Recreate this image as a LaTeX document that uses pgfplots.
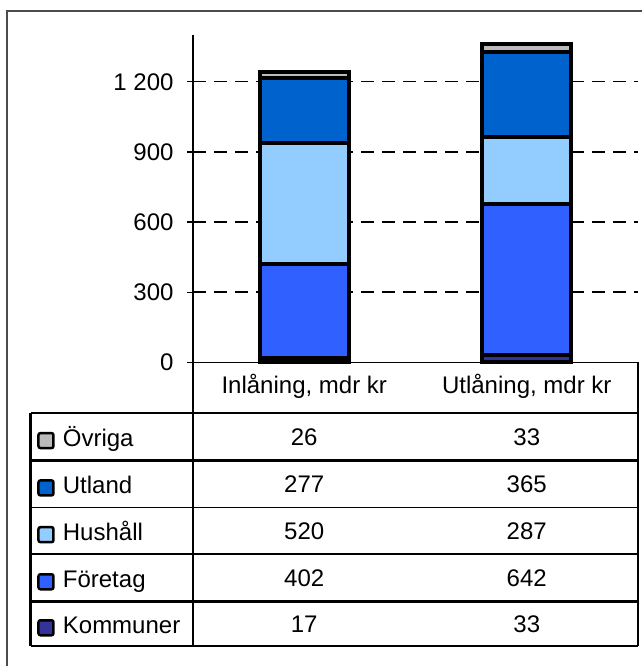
\documentclass[border=0pt]{standalone}
\usepackage{fontspec}
\setmainfont{Liberation Sans}
\usepackage{pgfplots}
\pgfplotsset{compat=1.18}
\definecolor{ovr}{HTML}{BBBBBB}
\definecolor{utl}{HTML}{0062CC}
\definecolor{hush}{HTML}{93CCFF}
\definecolor{foret}{HTML}{3060FF}
\definecolor{komm}{HTML}{333399}
\begin{document}
\begin{tikzpicture}[font=\fontsize{24bp}{28bp}\selectfont, x=1bp, y=1bp]
\useasboundingbox (-193,-303.7) rectangle (449,362.3);
\draw[line width=2bp, black!70] (-186,-400) -- (-186,351.3) -- (500,351.3);
\begin{axis}[
  at={(0,0)}, anchor=south west,
  scale only axis, width=445bp, height=327.3bp,
  xmin=-0.5, xmax=1.5, ymin=0, ymax=1400,
  axis x line*=bottom, axis y line*=left,
  axis line style={-, line width=1.3bp, black},
  ytick={0,300,600,900,1200},
  tick align=center, major tick length=12bp,
  tick style={black, line width=1.3bp},
  xtick={0,1}, xticklabels={{Inlåning, mdr kr},{Utlåning, mdr kr}},
  x tick style={draw=none},
  ymajorgrids,
  grid style={black, dash pattern=on 13bp off 8bp, line width=1.5bp},
  /pgf/number format/assume math mode=true,
  /pgf/number format/1000 sep={\ },
  yticklabel style={anchor=east, xshift=-10bp},
  xticklabel style={anchor=base, yshift=-25bp},
  ybar stacked, bar width=89bp,
  clip=false,
]
\addplot[fill=komm, draw=black, line width=4bp] coordinates {(0,17) (1,33)};
\addplot[fill=foret, draw=black, line width=4bp] coordinates {(0,402) (1,642)};
\addplot[fill=hush, draw=black, line width=4bp] coordinates {(0,520) (1,287)};
\addplot[fill=utl, draw=black, line width=4bp] coordinates {(0,277) (1,365)};
\addplot[fill=ovr, draw=black, line width=4bp] coordinates {(0,26) (1,33)};
\end{axis}
% table lines
\draw[line width=1.8bp] (445,0) -- (445,-283.7);
\draw[line width=1.3bp] (0,0) -- (0,-283.7);
\draw[line width=3bp] (-162,-50.4) -- (-162,-283.7);
\draw[line width=2bp] (-162,-50.4) -- (445,-50.4);
\draw[line width=3bp] (-162,-98.2) -- (445,-98.2);
\draw[line width=1.5bp] (-162,-145) -- (445,-145);
\draw[line width=1.5bp] (-162,-191.7) -- (445,-191.7);
\draw[line width=3bp] (-162,-239.2) -- (445,-239.2);
\draw[line width=2bp] (-162,-283.7) -- (445,-283.7);
% rows
\foreach \c/\name/\col/\a/\b in {-74.3/Övriga/ovr/26/33, -121.6/Utland/utl/277/365, -168.35/Hushåll/hush/520/287, -215.45/Företag/foret/402/642, -261.45/Kommuner/komm/17/33}{
  \draw[line width=2.5bp, rounded corners=2bp, fill=\col] (-154.5,\c-11.5) rectangle (-139.5,\c+3.5);
  \node[anchor=base west, inner sep=0pt] at (-130.3,\c-10) {\name};
  \node[anchor=base, inner sep=0pt] at (111.25,\c-8.5) {\a};
  \node[anchor=base, inner sep=0pt] at (333.75,\c-8.5) {\b};
}
\end{tikzpicture}
\end{document}
